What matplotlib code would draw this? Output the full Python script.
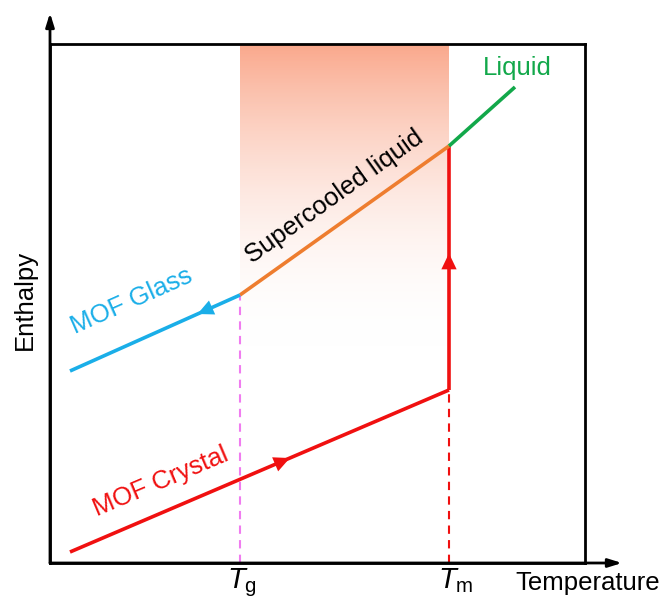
import numpy as np
import matplotlib.pyplot as plt
from matplotlib.colors import LinearSegmentedColormap

plt.rcParams['font.family'] = ['Liberation Sans', 'DejaVu Sans']
plt.rcParams['mathtext.fontset'] = 'custom'
plt.rcParams['mathtext.rm'] = 'Liberation Sans'
plt.rcParams['mathtext.it'] = 'Liberation Sans:italic'

# key temperatures (arbitrary units)
T_g = 190
T_m = 399

# enthalpy paths, (temperature, enthalpy) end points
crystal_T = [20, 399]
crystal_H = [11, 173]
melt_T = [399, 399]
melt_H = [173, 417]
supercooled_T = [190, 399]
supercooled_H = [268, 417]
liquid_T = [399, 465]
liquid_H = [417, 476]
glass_T = [190, 20]
glass_H = [268, 192]

RED = '#f01010'
BLUE = '#1aaee8'
ORANGE = '#ee7d2f'
GREEN = '#12a84a'
PINK = '#f07cf0'

fig = plt.figure(figsize=(6.64, 5.99), dpi=100)
ax = fig.add_axes([50 / 664, 36 / 599, 535 / 664, 519 / 599])
ax.set_xlim(0, 535)
ax.set_ylim(0, 519)
ax.set_xticks([])
ax.set_yticks([])
for s in ax.spines.values():
    s.set_linewidth(2)

# shaded supercooled window, fading downwards
cmap = LinearSegmentedColormap.from_list('fade', [(1, 1, 1, 0), (0.98, 0.66, 0.55, 1)])
grad = np.linspace(0, 1, 256).reshape(-1, 1)
ax.imshow(grad, extent=[T_g, T_m, 215, 519], origin='lower', cmap=cmap,
          aspect='auto', zorder=0)

# guide lines at Tg and Tm
ax.plot([T_g, T_g], [0, glass_H[0]], ls=(0, (4, 3)), color=PINK, lw=1.5, zorder=1)
ax.plot([T_m, T_m], [0, crystal_H[1]], ls=(0, (4, 3)), color=RED, lw=1.5, zorder=1)

lw = 2.6
ax.plot(crystal_T, crystal_H, color=RED, lw=lw, solid_capstyle='butt')
ax.plot(melt_T, melt_H, color=RED, lw=lw, solid_capstyle='butt')
ax.plot(supercooled_T, supercooled_H, color=ORANGE, lw=lw, solid_capstyle='butt')
ax.plot(liquid_T, liquid_H, color=GREEN, lw=lw, solid_capstyle='butt')
ax.plot(glass_T, glass_H, color=BLUE, lw=lw, solid_capstyle='butt')


def head(xs, ys, frac, color):
    # filled arrowhead sitting on a straight segment
    x0, x1 = xs
    y0, y1 = ys
    xa, ya = x0 + (x1 - x0) * (frac - 0.06), y0 + (y1 - y0) * (frac - 0.06)
    xb, yb = x0 + (x1 - x0) * frac, y0 + (y1 - y0) * frac
    ax.annotate('', xy=(xb, yb), xytext=(xa, ya),
                arrowprops=dict(arrowstyle='-|>,head_length=1.15,head_width=0.55',
                                color=color, lw=0, shrinkA=0, shrinkB=0))


head(crystal_T, crystal_H, 0.58, RED)
head(melt_T, melt_H, 0.56, RED)
head(glass_T, glass_H, 0.25, BLUE)

# axis arrows
ax.annotate('', xy=(0, 550), xytext=(0, 0), annotation_clip=False,
            arrowprops=dict(arrowstyle='-|>,head_length=0.8,head_width=0.25',
                            color='black', lw=2, shrinkA=0, shrinkB=0))
ax.annotate('', xy=(572, 0), xytext=(0, 0), annotation_clip=False,
            arrowprops=dict(arrowstyle='-|>,head_length=0.8,head_width=0.25',
                            color='black', lw=2, shrinkA=0, shrinkB=0))

fs = 18.5
ax.text(-25, 263, 'Enthalpy', rotation=90, ha='center', va='center', fontsize=fs)
ax.text(538, -20, 'Temperature', ha='center', va='center', fontsize=fs, clip_on=False)
ax.text(T_g - 13, -25, r'$\mathit{T}_\mathrm{g}$', ha='left', va='baseline', fontsize=21)
ax.text(T_m - 11, -25, r'$\mathit{T}_\mathrm{m}$', ha='left', va='baseline', fontsize=21)

ang = np.degrees(np.arctan2(supercooled_H[1] - supercooled_H[0],
                            supercooled_T[1] - supercooled_T[0]))
ax.text(284, 366, 'Supercooled liquid', rotation=ang, rotation_mode='anchor',
        ha='center', va='center', fontsize=fs)
ax.text(82, 262, 'MOF Glass', rotation=24, rotation_mode='anchor',
        ha='center', va='center', fontsize=fs, color=BLUE)
ax.text(111, 81, 'MOF Crystal', rotation=23, rotation_mode='anchor',
        ha='center', va='center', fontsize=fs, color=RED)
ax.text(467, 495, 'Liquid', ha='center', va='center', fontsize=fs, color=GREEN)

fig.savefig('out.png', dpi=100)
